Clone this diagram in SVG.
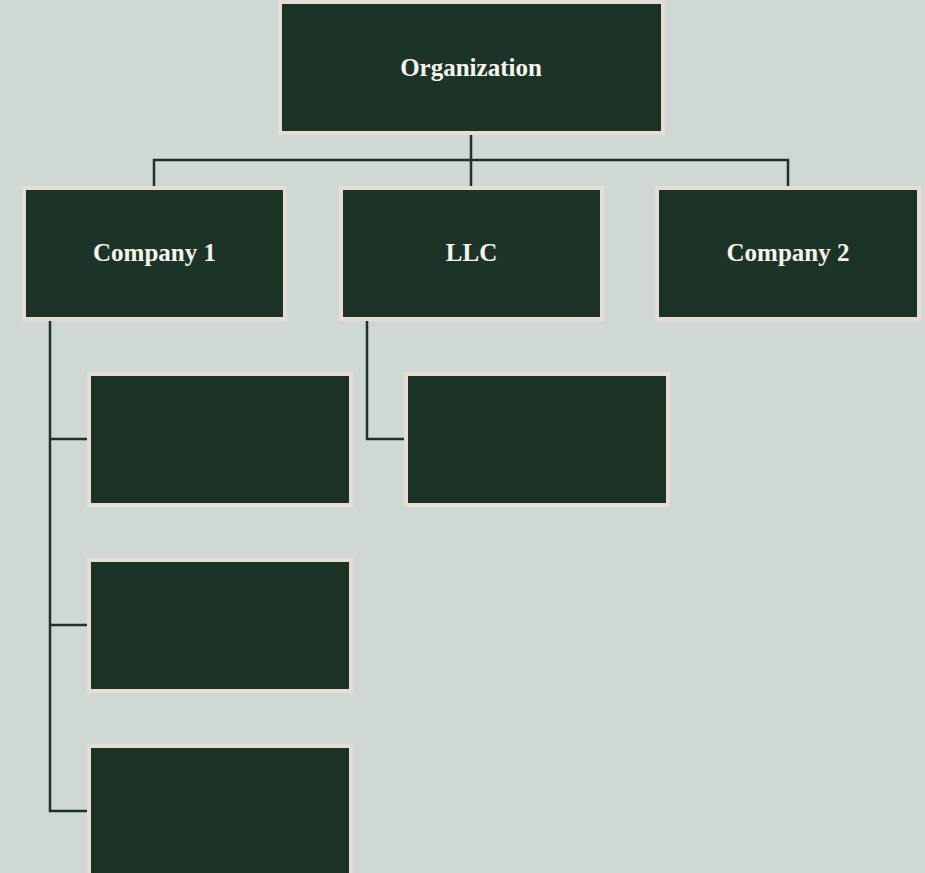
<svg xmlns="http://www.w3.org/2000/svg" width="925" height="873" viewBox="0 0 925 873">
<style>
.box{fill:#1B3427;stroke:#E8DDD4;stroke-width:4}
.lbl{fill:#F7F4EE;font-family:"Liberation Serif","DejaVu Serif",serif;font-weight:bold;font-size:25px;text-anchor:middle}
.conn{fill:none;stroke:#1B3427;stroke-width:2.5}
</style>
<rect width="925" height="873" fill="#CFD8D3"/>
<g id="connectors">
<path class="conn" d="M471 135V186M154 186V160H788V186"/>
<path class="conn" d="M50 321V811H87M50 439H87M50 625H87"/>
<path class="conn" d="M367 321V439H404"/>
</g>
<g id="organization"><rect class="box" x="280" y="2" width="383" height="131"/><text class="lbl" x="471" y="76">Organization</text></g>
<g id="company1"><rect class="box" x="24" y="188" width="261" height="131"/><text class="lbl" x="154.5" y="261">Company 1</text></g>
<g id="llc"><rect class="box" x="341" y="188" width="261" height="131"/><text class="lbl" x="471.5" y="261">LLC</text></g>
<g id="company2"><rect class="box" x="657" y="188" width="262" height="131"/><text class="lbl" x="788" y="261">Company 2</text></g>
<g id="c1child1"><rect class="box" x="89" y="374" width="262" height="131"/></g>
<g id="c1child2"><rect class="box" x="89" y="560" width="262" height="131"/></g>
<g id="c1child3"><rect class="box" x="89" y="746" width="262" height="131"/></g>
<g id="llcchild1"><rect class="box" x="406" y="374" width="262" height="131"/></g>
</svg>
